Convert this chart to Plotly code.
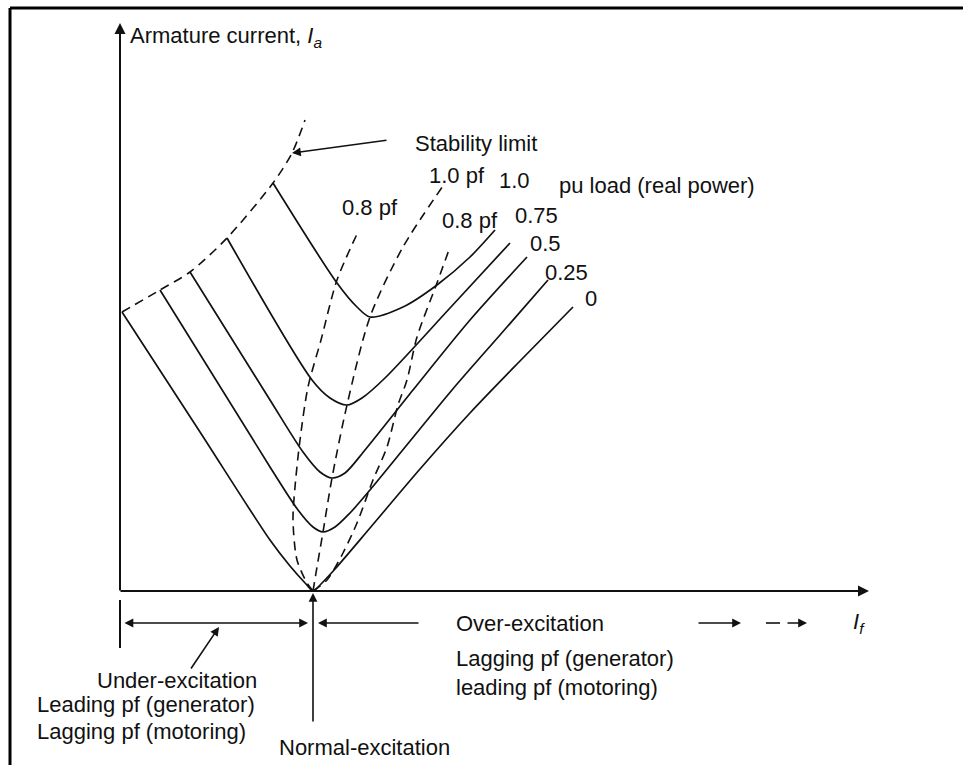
import plotly.graph_objects as go

# Diagram units: x = field current If (arbitrary units, origin at y-axis),
# y = armature current Ia (arbitrary units, origin at x-axis)

# V-curves (solid), one per per-unit real-power load
load_labels = ["0", "0.25", "0.5", "0.75", "1.0"]
v0_x = [2, 80, 150, 170, 186, 193, 201, 215, 250, 300, 350, 400, 453]
v0_y = [279, 159, 51, 25, 7, 0, 7, 22, 63, 122, 178, 230, 284]
v25_x = [40, 150, 178, 193, 203, 215, 230, 250, 332, 380, 428]
v25_y = [301, 124, 81, 64, 59, 64, 78, 101, 201, 256, 311]
v50_x = [70, 150, 183, 200, 212, 225, 245, 293, 350, 407]
v50_y = [319, 191, 139, 119, 113, 118, 141, 201, 271, 334]
v75_x = [107, 192, 210, 227, 242, 265, 330, 390]
v75_y = [353, 211, 193, 186, 193, 213, 283, 348]
v100_x = [153, 217, 237, 250, 283, 317, 350, 375]
v100_y = [408, 308, 284, 274, 284, 306, 334, 361]

# Dashed loci
stab_x = [2, 40, 70, 107, 153, 172, 185]
stab_y = [279, 301, 319, 353, 408, 438, 471]
pf08lead_x = [193, 187, 177, 173, 175, 180, 188, 201, 217, 238]
pf08lead_y = [0, 8, 31, 71, 104, 151, 204, 251, 311, 359]
pf10_x = [193, 197, 203, 212, 227, 250, 283, 325]
pf10_y = [0, 24, 59, 113, 186, 274, 344, 408]
pf08lag_x = [193, 207, 223, 237, 253, 267, 278, 287, 297, 317, 330]
pf08lag_y = [0, 11, 38, 68, 111, 144, 186, 211, 254, 308, 344]

# Label positions (diagram units)
load_label_x = [463, 423, 408, 393, 377]
load_label_y = [293, 319, 348, 376, 411]

FONT = "Liberation Sans, Arial, sans-serif"
BLACK = "#111111"

fig = go.Figure()

solid = [(v0_x, v0_y), (v25_x, v25_y), (v50_x, v50_y), (v75_x, v75_y), (v100_x, v100_y)]
for (xs, ys) in solid:
    fig.add_trace(go.Scatter(x=xs, y=ys, mode="lines",
                             line=dict(color=BLACK, width=1.7, shape="spline", smoothing=0.8),
                             hoverinfo="skip", showlegend=False))

dashed = [(stab_x, stab_y), (pf08lead_x, pf08lead_y), (pf10_x, pf10_y), (pf08lag_x, pf08lag_y)]
for (xs, ys) in dashed:
    fig.add_trace(go.Scatter(x=xs, y=ys, mode="lines",
                             line=dict(color=BLACK, width=1.6, dash="9px,6px",
                                       shape="spline", smoothing=0.8),
                             hoverinfo="skip", showlegend=False))

def text(x, y, s, size=22, anchor="left"):
    fig.add_annotation(x=x, y=y, xref="x", yref="y", text=s, showarrow=False,
                       xanchor=anchor, yanchor="middle",
                       font=dict(family=FONT, size=size, color=BLACK))

def arrow(x0, y0, x1, y1, both=False, width=1.6, size=1.1, head=2):
    fig.add_annotation(x=x1, y=y1, ax=x0, ay=y0, xref="x", yref="y",
                       axref="x", ayref="y", text="", showarrow=True,
                       arrowhead=head, startarrowhead=head, arrowsize=size,
                       startarrowsize=size, arrowwidth=width, arrowcolor=BLACK,
                       arrowside="end+start" if both else "end")

# axes
arrow(0, -1, 0, 568, width=2)
arrow(-1, 0, 749, 0, width=2)

# labels in the plot
text(8, 554, "Armature current, <i>I</i><sub><i>a</i></sub>")
text(293, 448, "Stability limit")
arrow(268, 451, 172, 438, width=1.6)
text(307, 416, "1.0 pf")
text(437, 406, "pu load (real power)")
text(220, 384, "0.8 pf")
text(320, 371, "0.8 pf")
for lx, ly, lab in zip(load_label_x, load_label_y, load_labels):
    text(lx, ly, lab)

# below the axis
fig.add_shape(type="line", x0=0, y0=-9, x1=0, y1=-57, xref="x", yref="y",
              line=dict(color=BLACK, width=2))
arrow(3, -32, 188, -32, both=True)
arrow(300, -32, 198, -32)
arrow(193, -132, 193, -2)
arrow(70, -79, 99, -36)
arrow(577, -32, 621, -32)
fig.add_shape(type="line", x0=646, y0=-32, x1=660, y1=-32, xref="x", yref="y",
              line=dict(color=BLACK, width=1.6))
arrow(666, -32, 687, -32)
text(334, -32, "Over-excitation")
text(731, -32, "<i>I</i><sub><i>f</i></sub>")
text(334, -67, "Lagging pf (generator)")
text(334, -96, "leading pf (motoring)")
text(-25, -89, "Under-excitation")
text(-85, -113, "Leading pf (generator)")
text(-85, -140, "Lagging pf (motoring)")
text(157, -156, "Normal-excitation")

# frame (top and left border)
fig.add_shape(type="line", x0=-110, y0=583, x1=843, y1=583, xref="x", yref="y",
              line=dict(color="black", width=3))
fig.add_shape(type="line", x0=-110, y0=583, x1=-110, y1=-174, xref="x", yref="y",
              line=dict(color="black", width=3))

fig.update_layout(
    width=963, height=765,
    margin=dict(l=0, r=0, t=0, b=0),
    paper_bgcolor="white", plot_bgcolor="white",
    xaxis=dict(range=[-120, 843], visible=False, fixedrange=True),
    yaxis=dict(range=[-174, 591], visible=False, fixedrange=True),
    showlegend=False,
)

fig.write_html("out.html", config={"displayModeBar": False},
               post_script="document.body.style.margin='0';document.body.style.overflow='hidden';")
